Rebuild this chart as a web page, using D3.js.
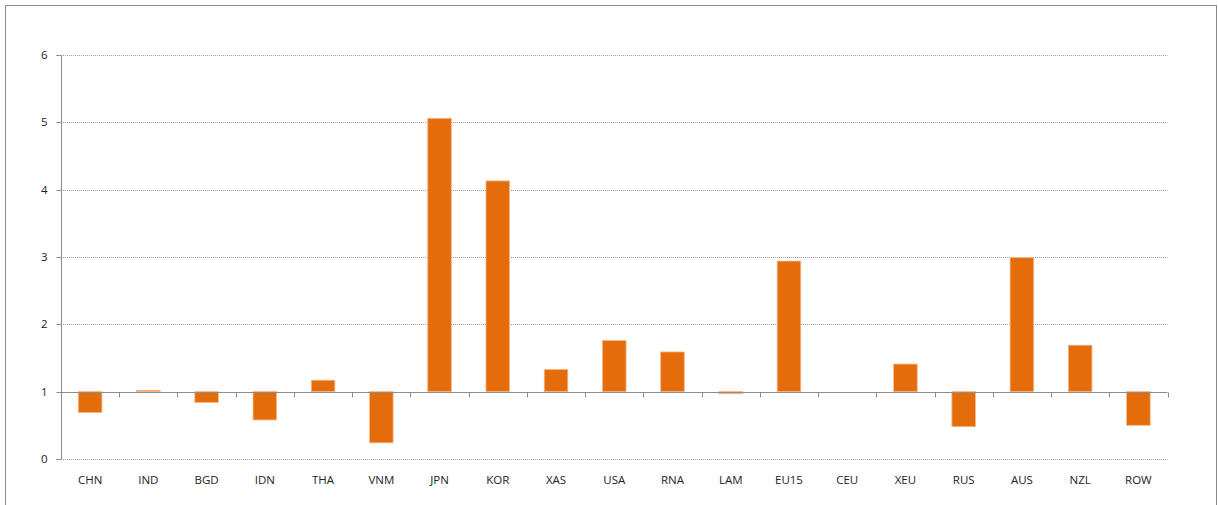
<!DOCTYPE html>
<html><head><meta charset="utf-8">
<script src="https://cdn.jsdelivr.net/npm/d3@7"></script>
<style>body{margin:0;background:#fff;}svg{display:block;font-family:"Open Sans","Noto Sans",sans-serif;}</style>
</head><body>
<svg id="c" width="1218" height="505"></svg>
<script>
const categories = ["CHN","IND","BGD","IDN","THA","VNM","JPN","KOR","XAS","USA","RNA","LAM","EU15","CEU","XEU","RUS","AUS","NZL","ROW"];
const values = [0.69,1.02,0.84,0.58,1.17,0.24,5.06,4.13,1.33,1.76,1.59,0.97,2.94,1.00,1.41,0.48,2.99,1.69,0.50];
const yTicks = [0,1,2,3,4,5,6];
const baseline = 1;

const svg = d3.select("#c");
const m = {l:61, r:1167.5, t:55, b:459};
svg.append("rect").attr("x",5.5).attr("y",5.5).attr("width",1211).attr("height",520)
  .attr("fill","#fff").attr("stroke","#8c8c8c");

const x = d3.scaleBand().domain(categories).range([m.l, m.r]);
const y = d3.scaleLinear().domain([0,6]).range([m.b, m.t]);

// gridlines
svg.append("g").selectAll("line").data(yTicks.filter(d=>d!==baseline)).join("line")
  .attr("x1",m.l).attr("x2",m.r)
  .attr("y1",d=>Math.round(y(d))+0.5).attr("y2",d=>Math.round(y(d))+0.5)
  .attr("stroke","#9a9a9a").attr("stroke-dasharray","1,1");

// y axis
const yAxis = d3.axisLeft(y).tickValues(yTicks).tickSize(5).tickPadding(9).tickFormat(d3.format("d"));
const yg = svg.append("g").attr("transform",`translate(${m.l+0.5},0.5)`).call(yAxis);
yg.select(".domain").attr("stroke","#8c8c8c").attr("d",`M-5,${Math.round(y(6))}H0V${Math.round(y(0))}H-5`);
yg.selectAll(".tick line").attr("stroke","#8c8c8c");
yg.selectAll(".tick").attr("transform",d=>`translate(0,${Math.round(y(d))})`);
yg.selectAll("text").attr("font-size",11.5).attr("fill","#222").attr("font-family","'Open Sans','Noto Sans',sans-serif");

// bars
const bw = x.bandwidth()*0.405;
svg.append("g").selectAll("rect").data(values.map((v,i)=>({c:categories[i],v}))).join("rect")
  .attr("x",d=>x(d.c)+x.bandwidth()/2-bw/2)
  .attr("width",bw)
  .attr("y",d=>y(Math.max(d.v,baseline)))
  .attr("height",d=>Math.abs(y(d.v)-y(baseline)))
  .attr("fill","#e46c0a").attr("stroke","#f6b88a").attr("stroke-width",0.8);

// baseline axis with boundary ticks
const by = Math.round(y(baseline))+0.5;
const bounds = categories.map(c=>x(c)).concat([m.r]);
const ag = svg.append("g");
ag.append("line").attr("x1",m.l).attr("x2",m.r).attr("y1",by).attr("y2",by).attr("stroke","#8c8c8c");
ag.selectAll("line.t").data(bounds.slice(1)).join("line").attr("class","t")
  .attr("x1",d=>Math.round(d)+0.5).attr("x2",d=>Math.round(d)+0.5)
  .attr("y1",by).attr("y2",by+5).attr("stroke","#8c8c8c");

// category labels
const xAxis = d3.axisBottom(x).tickSize(0).tickPadding(0);
const xg = svg.append("g").attr("transform",`translate(0,${m.b+17})`).call(xAxis);
xg.select(".domain").remove();
xg.selectAll("text").attr("font-size",11.5).attr("fill","#222").attr("dy","0.71em")
  .attr("font-family","'Open Sans','Noto Sans',sans-serif");
</script>
</body></html>
